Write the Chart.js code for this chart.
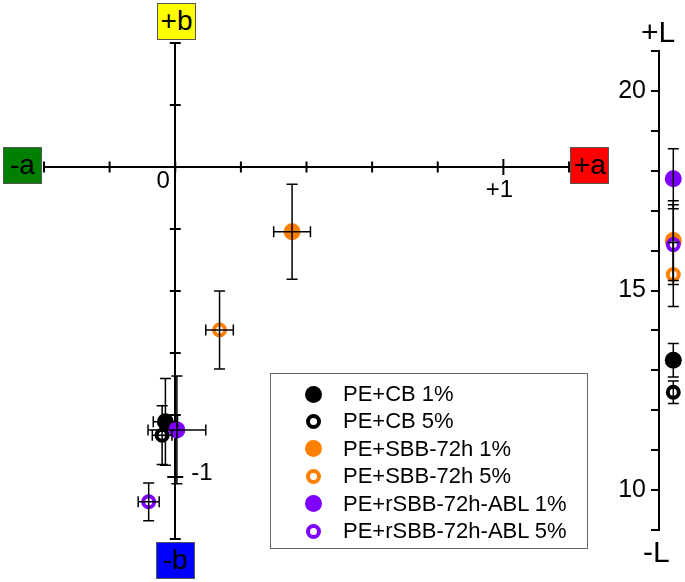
<!DOCTYPE html>
<html>
<head>
<meta charset="utf-8">
<script src="https://cdn.jsdelivr.net/npm/chart.js@4.4.0/dist/chart.umd.min.js"></script>
<style>
  html, body { margin: 0; padding: 0; background: #fff; overflow: hidden; }
  body { width: 685px; height: 582px; position: relative; font-family: 'Liberation Sans', Arial, sans-serif; color: #000; }
  canvas { position: absolute; top: 0; }
  #abChart { left: 0; }
  #lChart { left: 601px; }
  .box { position: absolute; box-sizing: border-box; border: 1px solid #555; font-size: 28px; line-height: 34px; text-align: center; }
  .lab { position: absolute; font-size: 30px; line-height: 30px; }
  #legend { position: absolute; left: 270px; top: 373px; width: 318px; height: 176px; box-sizing: border-box; border: 1px solid #666; }
  .row { position: absolute; left: 0; height: 28px; line-height: 28px; font-size: 22px; white-space: nowrap; }
  .row span.mk { position: absolute; box-sizing: border-box; border-radius: 50%; }
  .row span.tx { position: absolute; left: 72px; }
</style>
</head>
<body>
<canvas id="abChart" width="630" height="582"></canvas>
<canvas id="lChart" width="84" height="582"></canvas>

<div class="box" style="left:3px;top:147px;width:39px;height:37px;background:#008000;">-a</div>
<div class="box" style="left:570px;top:147px;width:39px;height:37px;background:#ff0000;">+a</div>
<div class="box" style="left:157px;top:3px;width:39px;height:37px;background:#ffff00;">+b</div>
<div class="box" style="left:156px;top:542px;width:39px;height:37px;background:#0000ff;">-b</div>
<div class="lab" style="left:641px;top:17px;">+L</div>
<div class="lab" style="left:643px;top:537px;">-L</div>
<div id="legend"></div>

<script>
// series
const seriesNames = ['PE+CB 1%', 'PE+CB 5%', 'PE+SBB-72h 1%', 'PE+SBB-72h 5%', 'PE+rSBB-72h-ABL 1%', 'PE+rSBB-72h-ABL 5%'];
const aValues = [-0.030, -0.040, 0.356, 0.135, 0.005, -0.081];
const aErrors = [0.037, 0.030, 0.056, 0.042, 0.088, 0.032];
const bValues = [-0.822, -0.865, -0.209, -0.526, -0.848, -1.080];
const bErrors = [0.140, 0.095, 0.153, 0.126, 0.174, 0.061];
const lValues = [13.25, 12.45, 16.25, 15.40, 17.80, 16.15];
const lErrors = [0.42, 0.28, 1.00, 0.80, 0.75, 1.00];

// tick labels
const aTickValues = [0, 1];
const aTickLabels = ['0', '+1'];
const bTickValues = [-1];
const bTickLabels = ['-1'];
const lTickValues = [10, 15, 20];

const colors = ['#000000', '#000000', '#ff8000', '#ff8000', '#8000ff', '#8000ff'];
const filled = [true, false, true, false, true, false];
const FONT = "'Liberation Sans', Arial, sans-serif";

function pointStyle(i) {
  return filled[i]
    ? { pointRadius: 8.5, pointBorderWidth: 0, backgroundColor: colors[i], borderColor: colors[i] }
    : { pointRadius: 5.5, pointBorderWidth: 4, backgroundColor: '#ffffff', borderColor: colors[i] };
}

// error bars drawn through the scales
const errorBars = {
  id: 'errorBars',
  afterDatasetsDraw(chart) {
    const { ctx, scales } = chart;
    const xs = scales.x, ys = scales.y;
    ctx.save();
    ctx.strokeStyle = '#000';
    ctx.lineWidth = 1.5;
    chart.data.datasets.forEach(ds => {
      const p = ds.data[0];
      const px = xs.getPixelForValue(p.x), py = ys.getPixelForValue(p.y);
      ctx.beginPath();
      if (ds.yErr) {
        const y1 = ys.getPixelForValue(p.y + ds.yErr), y2 = ys.getPixelForValue(p.y - ds.yErr);
        ctx.moveTo(px, y1); ctx.lineTo(px, y2);
        ctx.moveTo(px - 5.5, y1); ctx.lineTo(px + 5.5, y1);
        ctx.moveTo(px - 5.5, y2); ctx.lineTo(px + 5.5, y2);
      }
      if (ds.xErr) {
        const x1 = xs.getPixelForValue(p.x - ds.xErr), x2 = xs.getPixelForValue(p.x + ds.xErr);
        ctx.moveTo(x1, py); ctx.lineTo(x2, py);
        ctx.moveTo(x1, py - 5.5); ctx.lineTo(x1, py + 5.5);
        ctx.moveTo(x2, py - 5.5); ctx.lineTo(x2, py + 5.5);
      }
      ctx.stroke();
    });
    ctx.restore();
  }
};

// ticks crossing the a/b axes, plus their few labels
const crossTicks = {
  id: 'crossTicks',
  beforeDatasetsDraw(chart) {
    const { ctx, scales: { x, y } } = chart;
    const x0 = x.getPixelForValue(0), y0 = y.getPixelForValue(0);
    ctx.save();
    ctx.strokeStyle = '#000';
    ctx.lineWidth = 2;
    ctx.beginPath();
    x.ticks.forEach(t => {
      const px = x.getPixelForValue(t.value);
      const h = Math.abs(Math.abs(t.value) - 1) < 1e-6 ? 8 : 5.5;
      ctx.moveTo(px, y0 - h); ctx.lineTo(px, y0 + h);
    });
    y.ticks.forEach(t => {
      const py = y.getPixelForValue(t.value);
      const h = Math.abs(Math.abs(t.value) - 1) < 1e-6 ? 8 : 5.5;
      ctx.moveTo(x0 - h, py); ctx.lineTo(x0 + h, py);
    });
    ctx.stroke();

    ctx.fillStyle = '#000';
    ctx.font = '24px ' + FONT;
    ctx.textBaseline = 'middle';
    ctx.textAlign = 'center';
    aTickValues.forEach((v, i) => {
      const off = v === 0 ? -12 : -4;
      const dy = v === 0 ? 14 : 23;
      ctx.fillText(aTickLabels[i], x.getPixelForValue(v) + off, y0 + dy);
    });
    ctx.textAlign = 'left';
    bTickValues.forEach((v, i) => {
      ctx.fillText(bTickLabels[i], x0 + 16, y.getPixelForValue(v) - 4);
    });
    ctx.restore();
  }
};

new Chart(document.getElementById('abChart'), {
  type: 'scatter',
  data: {
    datasets: seriesNames.map((name, i) => Object.assign({
      label: name,
      data: [{ x: aValues[i], y: bValues[i] }],
      xErr: aErrors[i],
      yErr: bErrors[i],
      order: 6 - i,
      clip: false
    }, pointStyle(i)))
  },
  options: {
    responsive: false,
    animation: false,
    layout: { autoPadding: false, padding: { left: 44, right: 61, top: 43, bottom: 43 } },
    plugins: { legend: { display: false }, tooltip: { enabled: false } },
    scales: {
      x: {
        type: 'linear', min: -0.4, max: 1.2, position: { y: 0 },
        afterFit: s => { s.height = 0; },
        ticks: { display: false, stepSize: 0.2 },
        grid: { drawOnChartArea: false, drawTicks: false },
        border: { color: '#000', width: 2 }
      },
      y: {
        type: 'linear', min: -1.2, max: 0.4, position: { x: 0 },
        afterFit: s => { s.width = 0; },
        ticks: { display: false, stepSize: 0.2 },
        grid: { drawOnChartArea: false, drawTicks: false },
        border: { color: '#000', width: 2 }
      }
    }
  },
  plugins: [crossTicks, errorBars]
});

new Chart(document.getElementById('lChart'), {
  type: 'scatter',
  data: {
    datasets: seriesNames.map((name, i) => Object.assign({
      label: name,
      data: [{ x: 0, y: lValues[i] }],
      yErr: lErrors[i],
      order: 6 - i,
      clip: false
    }, pointStyle(i)))
  },
  options: {
    responsive: false,
    animation: false,
    layout: { autoPadding: false, padding: { left: 0, right: 0, top: 51, bottom: 52 } },
    plugins: { legend: { display: false }, tooltip: { enabled: false } },
    scales: {
      x: { type: 'linear', min: -1.1, max: 0.9, display: false },
      y: {
        type: 'linear', position: 'left', min: 9, max: 21,
        afterFit: s => { s.width = 58; },
        ticks: {
          stepSize: 1, autoSkip: false, color: '#000', padding: 5,
          font: { size: 25, family: FONT },
          callback: v => lTickValues.includes(v) ? String(v) : ''
        },
        grid: { drawOnChartArea: false, tickLength: 8, color: '#000', lineWidth: 2 },
        border: { color: '#000', width: 2 }
      }
    }
  },
  plugins: [errorBars]
});

// legend
const legend = document.getElementById('legend');
seriesNames.forEach((name, i) => {
  const row = document.createElement('div');
  row.className = 'row';
  row.style.top = (6 + i * 27.4) + 'px';
  const mk = document.createElement('span');
  mk.className = 'mk';
  if (filled[i]) {
    Object.assign(mk.style, { width: '17px', height: '17px', left: '34px', top: '5.5px', background: colors[i] });
  } else {
    Object.assign(mk.style, { width: '15px', height: '15px', left: '35px', top: '6.5px', border: '4px solid ' + colors[i], background: '#fff' });
  }
  const tx = document.createElement('span');
  tx.className = 'tx';
  tx.textContent = name;
  row.appendChild(mk);
  row.appendChild(tx);
  legend.appendChild(row);
});
</script>
</body>
</html>
